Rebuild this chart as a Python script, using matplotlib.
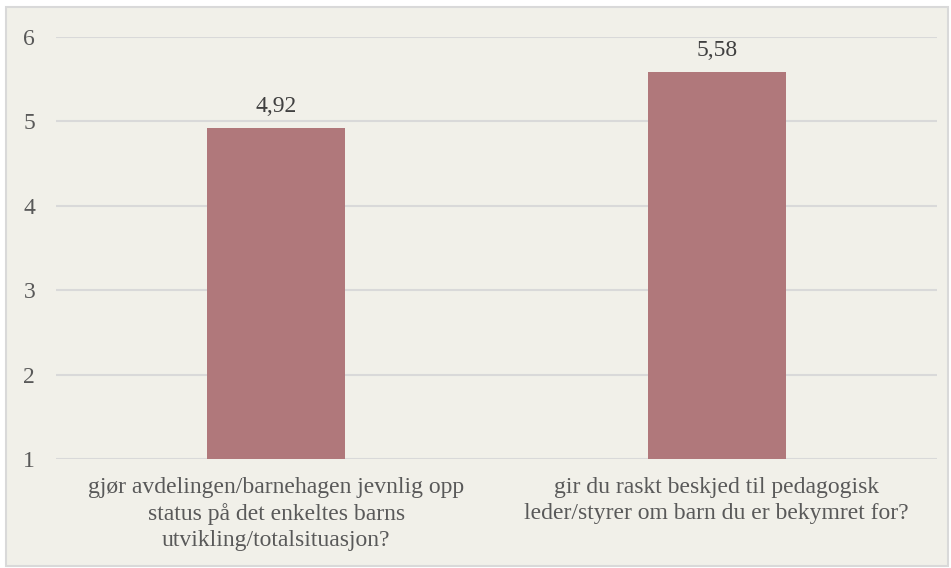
import matplotlib
matplotlib.use("Agg")
import matplotlib.pyplot as plt
from matplotlib.patches import Rectangle

categories = [
    "gjør avdelingen/barnehagen jevnlig opp\nstatus på det enkeltes barns\nutvikling/totalsituasjon?",
    "gir du raskt beskjed til pedagogisk\nleder/styrer om barn du er bekymret for?",
]
values = [4.92, 5.58]
value_labels = ["4,92", "5,58"]
yticks = [1, 2, 3, 4, 5, 6]

plt.rcParams['font.family'] = ['Liberation Serif', 'DejaVu Serif']

W, H = 951, 568
fig = plt.figure(figsize=(W / 100, H / 100), dpi=100, facecolor='white')
bg = Rectangle((6 / W, 1 - 566 / H), (948 - 6) / W, (566 - 7) / H,
               transform=fig.transFigure, facecolor='#f1f0e9',
               edgecolor='#d9d9d9', linewidth=1.5, zorder=-10)
fig.patches.append(bg)

ax = fig.add_axes([56 / W, 1 - 459 / H, (937 - 56) / W, (459 - 37) / H])
ax.set_zorder(1)
ax.set_facecolor('none')
x = list(range(len(categories)))
bars = ax.bar(x, [v - 1 for v in values], bottom=1, width=0.313,
              color='#b0787b', zorder=3)
ax.set_xlim(-0.5, len(categories) - 0.5)
ax.set_ylim(1, 6)
ax.set_yticks(yticks)
ax.set_yticklabels([str(t) for t in yticks])
ax.yaxis.grid(True, color='#d9d9d9', linewidth=1.5, zorder=0)
ax.set_axisbelow(True)
for s in ax.spines.values():
    s.set_visible(False)
ax.tick_params(axis='y', length=0, pad=15, labelsize=17, labelcolor='#595959')
ax.set_xticks(x)
ax.set_xticklabels(categories, fontsize=17, color='#595959', linespacing=1.3)
ax.tick_params(axis='x', length=0, pad=13)

for xi, v, lab in zip(x, values, value_labels):
    ax.annotate(lab, (xi, v), xytext=(0, 8), textcoords='offset points',
                ha='center', va='bottom', fontsize=17, color='#404040',
                annotation_clip=False)

fig.savefig('out.png', dpi=100, facecolor='white')
